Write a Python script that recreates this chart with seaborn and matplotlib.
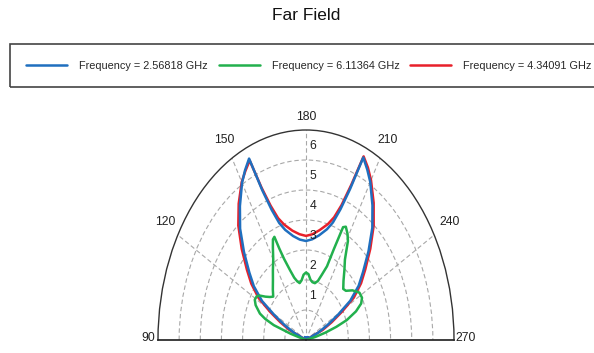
import numpy as np
import matplotlib
matplotlib.use("Agg")
import matplotlib.pyplot as plt
import pandas as pd
import seaborn as sns
from matplotlib.lines import Line2D
from matplotlib.patches import Rectangle
from matplotlib.transforms import ScaledTranslation

# Far-field pattern samples (theta in degrees, magnitude)
theta_blue = [90, 110, 113, 116, 119, 122, 126, 130, 135, 140, 145, 150, 153, 156,
              157.5, 159.5, 162, 165, 170, 175, 180, 185, 190, 195, 198, 200.5,
              202.5, 204, 207, 210, 215, 220, 225, 230, 234, 238, 241, 244, 247,
              250, 270]
r_blue = [0, 0, 0.6, 1.1, 1.7, 2.45, 3.05, 3.5, 4.15, 4.85, 5.45, 6.05, 6.35, 6.62,
          5.4, 4.63, 4.1, 3.8, 3.52, 3.36, 3.3, 3.37, 3.54, 3.82, 4.12, 4.65,
          5.45, 6.66, 6.38, 6.08, 5.48, 4.88, 4.18, 3.52, 3.08, 2.47, 1.72, 1.12,
          0.62, 0, 0]

theta_red = theta_blue
r_red = [0, 0, 0.85, 1.35, 1.95, 2.65, 3.2, 3.65, 4.3, 4.98, 5.55, 6.08, 6.32, 6.55,
         5.5, 4.78, 4.27, 3.98, 3.7, 3.54, 3.47, 3.54, 3.72, 4.0, 4.3, 4.8,
         5.6, 6.7, 6.45, 6.15, 5.58, 4.98, 4.3, 3.66, 3.22, 2.67, 1.95, 1.35,
         0.85, 0, 0]

theta_green = [90, 104, 106, 108, 110, 112, 116, 119, 122, 124, 127, 130, 133, 137,
               142, 146, 150, 153, 155, 156.5, 157.5, 159, 162, 165, 168, 171, 174,
               177, 180, 183, 186, 189, 192.5, 196, 199, 202, 203.5, 205, 206.5,
               209, 211, 214.5, 218, 222, 226, 229, 233, 238, 242, 245, 248, 251,
               253, 255, 257, 259, 270]
r_green = [0, 0.1, 0.75, 1.6, 2.05, 2.35, 2.65, 2.77, 2.75, 2.65, 2.4, 2.23, 2.12, 2.3,
           2.54, 2.8, 3.1, 3.45, 3.7, 3.75, 3.3, 2.9, 2.45, 2.15, 2.0, 1.92, 2.0,
           2.18, 2.25, 2.2, 2.02, 1.95, 1.94, 2.05, 2.3, 2.65, 3.3, 4.15, 4.22,
           4.05, 3.85, 3.25, 2.95, 2.65, 2.45, 2.5, 2.75, 2.98, 3.0, 2.88, 2.55,
           2.04, 1.5, 0.95, 0.45, 0.05, 0]

labels = ["Frequency = 2.56818 GHz", "Frequency = 6.11364 GHz", "Frequency = 4.34091 GHz"]
colors = ["#1f6fbf", "#22b04d", "#e8202a"]

theta_ticks = [90, 120, 150, 180, 210, 240, 270]
r_ticks = [1, 2, 3, 4, 5, 6]
r_max = 7

# pixel offsets of the angle labels from the rim
theta_label_offsets = [(-10, 2), (-13, 13), (-8, 18), (0, 13), (8, 18), (15, 13), (12, 2)]

sns.set_theme(style="white")
plt.rcParams["font.family"] = ["Liberation Sans", "DejaVu Sans"]

frames = []
for name, th, rr in [(labels[2], theta_red, r_red),
                     (labels[0], theta_blue, r_blue),
                     (labels[1], theta_green, r_green)]:
    frames.append(pd.DataFrame({"theta": np.deg2rad(th), "r": rr, "series": name}))
df = pd.concat(frames, ignore_index=True)
palette = dict(zip(labels, colors))

fig = plt.figure(figsize=(5.94, 3.53), dpi=100)
ax = fig.add_axes([158 / 594, -92 / 353, 296 / 594, 420 / 353], projection="polar")
ax.set_theta_zero_location("S")
ax.set_theta_direction(-1)
ax.set_thetamin(90)
ax.set_thetamax(270)
ax.set_rlim(0, r_max)
ax.set_aspect("auto")

sns.lineplot(data=df, x="theta", y="r", hue="series", palette=palette,
             hue_order=[labels[2], labels[0], labels[1]], estimator=None,
             sort=False, legend=False, linewidth=1.8, ax=ax)
ax.plot(np.deg2rad(theta_blue[:1]), r_blue[:1], "s", color=colors[0], ms=4, zorder=1)
ax.set_xlabel("")
ax.set_ylabel("")

ax.set_thetagrids(theta_ticks, labels=[""] * len(theta_ticks))
ax.tick_params(axis="x", pad=0, length=0)
ax.set_rgrids(r_ticks, labels=[""] * len(r_ticks))
ax.grid(True, color="#a8a8a8", linestyle=(0, (4, 2.5)), linewidth=0.8)
ax.spines["polar"].set_color("#333333")
ax.spines["polar"].set_linewidth(1.0)
for s in ("start", "end", "inner"):
    ax.spines[s].set_visible(False)

for t, (dx, dy) in zip(theta_ticks, theta_label_offsets):
    off = ScaledTranslation(dx / 100, dy / 100, fig.dpi_scale_trans)
    ax.text(np.deg2rad(t), r_max, str(t), transform=ax.transData + off,
            ha="center", va="center", fontsize=8.8, color="#222222")

off = ScaledTranslation(7 / 100, 14 / 100, fig.dpi_scale_trans)
for r in r_ticks:
    ax.text(np.pi, r, str(r), transform=ax.transData + off, ha="center",
            va="center", fontsize=8.8, color="#222222")

fig.text(306 / 594, 1 - 16 / 353, "Far Field", ha="center", va="center",
         fontsize=12.5, color="#111111")

handles = [Line2D([], [], color=c, linewidth=1.8) for c in colors]
fig.legend(handles, labels, loc="center left", bbox_to_anchor=(26 / 594, 1 - 66 / 353),
           bbox_transform=fig.transFigure, ncol=3, frameon=False, fontsize=7.8,
           handlelength=3.8, handletextpad=1.1, columnspacing=1.0,
           borderpad=0, borderaxespad=0)
fig.add_artist(Rectangle((10 / 594, 1 - 87 / 353), 610 / 594, 43 / 353,
                         transform=fig.transFigure, fill=False,
                         edgecolor="#444444", linewidth=1.2))

fig.savefig("out.png", dpi=100)
